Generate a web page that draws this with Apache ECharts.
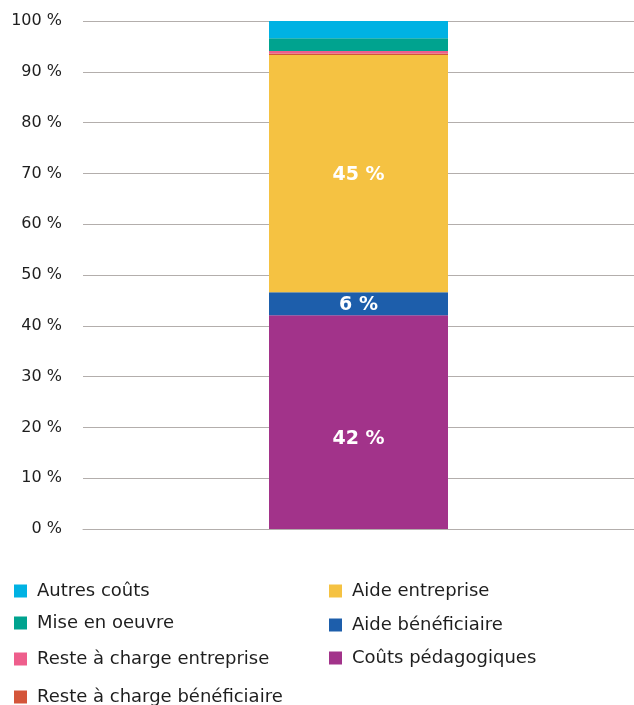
<!DOCTYPE html>
<html>
<head>
<meta charset="utf-8">
<script src="https://cdn.jsdelivr.net/npm/echarts@6/dist/echarts.min.js"></script>
<style>
    html, body { margin: 0; padding: 0; background: #ffffff; }
    #chart { width: 634px; height: 705px; }
</style>
</head>
<body>
<div id="chart"></div>
<script>
// une seule barre empilée (de bas en haut)
var categories = ['Total'];
var seriesNames = ['Coûts pédagogiques', 'Aide bénéficiaire', 'Aide entreprise',
    'Reste à charge bénéficiaire', 'Reste à charge entreprise', 'Mise en oeuvre', 'Autres coûts'];
var seriesValues = [42.1, 4.5, 46.7, 0.3, 0.5, 2.5, 3.4];
// étiquettes affichées dans la barre (texte du graphique d'origine)
var labelTexts = ['42 %', '6 %', '45 %', '', '', '', ''];
var colors = ['#A2338A', '#1D5EAB', '#F5C242', '#D4553A', '#EE5E8C', '#00A38F', '#00B2E3'];
var yTicks = { min: 0, max: 100, interval: 10 };

// ordre de la légende : colonne gauche puis colonne droite
var legendOrder = ['Autres coûts', 'Mise en oeuvre', 'Reste à charge entreprise', 'Reste à charge bénéficiaire',
    'Aide entreprise', 'Aide bénéficiaire', 'Coûts pédagogiques'];
var legendPos = [[14, 582], [14, 614], [14, 650], [14, 688], [329, 582], [329, 616], [329, 649]];

var font = '"DejaVu Sans", "Noto Sans", sans-serif';
var chart = echarts.init(document.getElementById('chart'));

var series = seriesNames.map(function (name, i) {
    return {
        name: name,
        type: 'bar',
        stack: 'total',
        barWidth: 179,
        data: [seriesValues[i]],
        itemStyle: { color: colors[i] },
        label: {
            show: labelTexts[i] !== '',
            position: 'inside',
            offset: i === 0 ? [0, 17] : [0, 1],
            formatter: function () { return labelTexts[i]; },
            color: '#ffffff',
            fontFamily: font,
            fontWeight: 'bold',
            fontSize: 19
        },
        emphasis: { disabled: true },
        animation: false
    };
});

var legends = legendOrder.map(function (name, i) {
    return {
        data: [name],
        left: legendPos[i][0],
        top: legendPos[i][1],
        padding: 0,
        icon: 'rect',
        itemWidth: 13,
        itemHeight: 13,
        selectedMode: false,
        textStyle: { fontFamily: font, fontSize: 18, color: '#1e1e1e', padding: [0, 0, 0, 5] }
    };
});

var option = {
    backgroundColor: '#ffffff',
    animation: false,
    // la zone dépasse un peu à droite pour centrer la barre comme l'original
    grid: { left: 83, right: -4, top: 21, bottom: 176, containLabel: false },
    legend: legends,
    xAxis: {
        type: 'category',
        data: categories,
        axisLine: { lineStyle: { color: '#b3aeac', width: 1 } },
        axisTick: { show: false },
        axisLabel: { show: false }
    },
    yAxis: {
        type: 'value',
        min: yTicks.min,
        max: yTicks.max,
        interval: yTicks.interval,
        axisLine: { show: false },
        axisTick: { show: false },
        axisLabel: {
            formatter: '{value} %',
            margin: 21,
            fontFamily: font,
            fontSize: 16,
            color: '#1e1e1e'
        },
        splitLine: { lineStyle: { color: '#b3aeac', width: 1 } }
    },
    series: series
};
chart.setOption(option);
</script>
</body>
</html>
